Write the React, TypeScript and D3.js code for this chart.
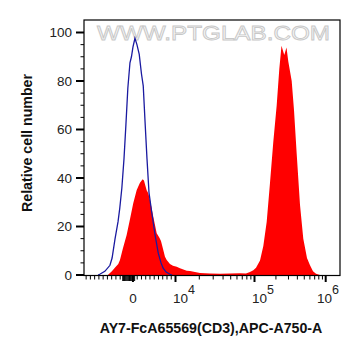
import React from "react";
import * as d3 from "d3";

// Histogram data: [fluorescence value, relative cell number]
const controlSeries: [number, number][] = [
  [-8200, 0], [-7800, 0.3], [-6600, 1.5], [-5400, 4], [-4900, 7], [-4200, 15],
  [-3500, 22], [-3100, 27.5], [-2600, 36], [-2100, 48], [-1650, 62], [-1200, 77],
  [-700, 87.5], [-350, 90], [0, 94], [470, 97.6], [940, 95], [1480, 91],
  [2000, 83], [2420, 78], [2820, 64], [3300, 48], [3770, 34], [4400, 26],
  [5200, 16.5], [5950, 9], [6600, 5], [7100, 2.8], [7800, 1.2], [8700, 0.3], [9200, 0],
];

const stainedSeries: [number, number][] = [
  [-5900, 0], [-4950, 1.5], [-4250, 3], [-3450, 4.5], [-3050, 6.2], [-2350, 11],
  [-1480, 16.5], [-700, 23], [70, 29.6], [870, 35], [1250, 36.5], [1650, 38],
  [2280, 39.5], [2590, 39], [3220, 35], [3600, 33.7], [4000, 31], [4780, 24],
  [5580, 17.2], [6190, 15.5], [6590, 14], [7130, 10.3], [7530, 7.5], [7930, 6.2],
  [8700, 4.5], [9400, 3.8], [10360, 3.4], [11400, 2.8], [13860, 1.8], [15260, 1.6],
  [20400, 0.8], [27300, 0.6], [36600, 0.5], [49000, 0.6], [65500, 0.7], [78000, 0.6],
  [87700, 1.2], [96600, 2], [105000, 3], [119500, 6], [133000, 12], [148400, 22],
  [165100, 38], [183700, 55], [205000, 70], [223000, 85], [239400, 94.5],
  [262000, 90.7], [281400, 93.8], [298400, 88], [333000, 80], [358700, 68],
  [391400, 50], [435500, 29], [484600, 15], [546000, 7], [602000, 4], [663000, 1.5],
  [731000, 0.5], [832000, 0],
];

const yMajorTicks = [0, 20, 40, 60, 80, 100];
const yMinorTicks = [5, 10, 15, 25, 30, 35, 45, 50, 55, 65, 70, 75, 85, 90, 95];
const xMajorTicks = [0, 1e4, 1e5, 1e6];
const xDecadeLabels = [
  { value: 1e4, exp: "4" },
  { value: 1e5, exp: "5" },
  { value: 1e6, exp: "6" },
];
const xZeroTicks = [-2400, -2200, -2000, -1800, -1600, -1400, -1200, -1000, -800, -600, -400, -200, 200, 400];
const xLinearTicks = [
  -11000, -10000, -9000, -8000, -7000, -6000, -5000, -4000, -3000,
  1000, 2000, 3000, 4000, 5000, 6000, 7000, 8000, 9000,
];
const xLogMinorTicks = [
  2e4, 3e4, 4e4, 5e4, 6e4, 7e4, 8e4, 9e4,
  2e5, 3e5, 4e5, 5e5, 6e5, 7e5, 8e5, 9e5,
];

const W = 361;
const H = 356;
const left = 84;
const right = 340;
const top = 20;
const bottom = 275.5;

const xLin = d3.scaleLinear().domain([-11500, 1e4]).range([left, 175.5]);
const xLog = d3.scaleLog().domain([1e4, 1e5, 1e6]).range([175.5, 254.5, 325.7]);
const x = (v: number) => (v <= 1e4 ? xLin(v) : xLog(v));
const y = d3.scaleLinear().domain([0, 100]).range([275, 32.5]);

const font = "'Liberation Sans', Arial, sans-serif";

export default function App() {
  const area = d3
    .area<[number, number]>()
    .x((d) => x(d[0]))
    .y0(y(0))
    .y1((d) => y(d[1]));
  const line = d3
    .line<[number, number]>()
    .x((d) => x(d[0]))
    .y((d) => y(d[1]));

  return (
    <svg
      width={W}
      height={H}
      style={{ position: "absolute", left: 0, top: 0, background: "#fff" }}
      fontFamily={font}
    >
      <defs>
        <clipPath id="plotClip">
          <rect x={left} y={top} width={right - left} height={bottom - top} />
        </clipPath>
      </defs>
      <rect x={0} y={0} width={W} height={H} fill="#fff" />
      <text
        x={97}
        y={40}
        fontSize={21}
        textLength={233}
        lengthAdjust="spacingAndGlyphs"
        fill="#f7f7f7"
        stroke="#c8c8c8"
        strokeWidth={0.9}
      >
        WWW.PTGLAB.COM
      </text>
      <g clipPath="url(#plotClip)">
        <path d={area(stainedSeries) || ""} fill="#ff0000" />
        <path d={line(controlSeries) || ""} fill="none" stroke="#1a1aa0" strokeWidth={1.3} />
      </g>
      <rect
        x={left}
        y={top}
        width={right - left}
        height={bottom - top}
        fill="none"
        stroke="#000"
        strokeWidth={1.2}
      />
      {/* Y axis */}
      {yMajorTicks.map((t) => (
        <g key={"ym" + t}>
          <line x1={76} x2={left} y1={y(t)} y2={y(t)} stroke="#000" strokeWidth={2} />
          <text x={72} y={y(t) + 4.7} fontSize={13.5} textAnchor="end" fill="#222">
            {t}
          </text>
        </g>
      ))}
      {yMinorTicks.map((t) => (
        <line key={"yn" + t} x1={80.5} x2={left} y1={y(t)} y2={y(t)} stroke="#000" strokeWidth={1} />
      ))}
      {/* X axis */}
      {xMajorTicks.map((t) => (
        <line key={"xm" + t} x1={x(t)} x2={x(t)} y1={bottom} y2={282} stroke="#000" strokeWidth={2} />
      ))}
      {xZeroTicks.map((t) => (
        <line key={"xz" + t} x1={x(t)} x2={x(t)} y1={bottom} y2={281} stroke="#000" strokeWidth={1} />
      ))}
      {xLinearTicks.concat(xLogMinorTicks).map((t) => (
        <line key={"xn" + t} x1={x(t)} x2={x(t)} y1={bottom} y2={279.5} stroke="#000" strokeWidth={1} />
      ))}
      <text x={x(0)} y={303} fontSize={13.5} textAnchor="middle" fill="#222">
        0
      </text>
      {xDecadeLabels.map((l) => {
        const sx = Math.min(x(l.value) - 2.5, right - 23);
        return (
          <text key={"xl" + l.exp} x={sx} y={303} fontSize={13.5} fill="#222">
            10
            <tspan dy={-9.5} fontSize={12.5}>
              {l.exp}
            </tspan>
          </text>
        );
      })}
      <text
        x={(left + right) / 2 - 1}
        y={333}
        fontSize={14.2}
        fontWeight="bold"
        textAnchor="middle"
        fill="#111"
      >
        AY7-FcA65569(CD3),APC-A750-A
      </text>
      <text
        transform={`translate(32, 143) rotate(-90)`}
        fontSize={14.2}
        fontWeight="bold"
        textAnchor="middle"
        fill="#111"
      >
        Relative cell number
      </text>
    </svg>
  );
}
